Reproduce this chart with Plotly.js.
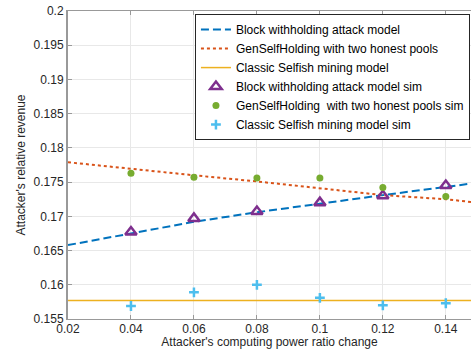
<!DOCTYPE html>
<html><head><meta charset="utf-8">
<script src="https://cdn.plot.ly/plotly-3.0.1.min.js"></script>
<style>html,body{margin:0;padding:0;background:#fff}</style>
</head><body><div id="chart" style="width:471px;height:349px"></div>
<script>
const lineX = [0.02, 0.04, 0.06, 0.08, 0.10, 0.12, 0.14, 0.15];
const blockModel = [0.1658, 0.1675, 0.1692, 0.1706, 0.1719, 0.1731, 0.1743, 0.1749];
const genModel = [0.1779, 0.1769, 0.1760, 0.1751, 0.1741, 0.1731, 0.1725, 0.1720];
const classicModel = [0.1577, 0.1577, 0.1577, 0.1577, 0.1577, 0.1577, 0.1577, 0.1577];
const simX = [0.04, 0.06, 0.08, 0.10, 0.12, 0.14];
const blockSim = [0.1677, 0.1697, 0.1707, 0.1720, 0.1730, 0.1745];
const genSim = [0.1763, 0.1757, 0.1756, 0.1756, 0.1742, 0.1729];
const classicSim = [0.1569, 0.1589, 0.1600, 0.1581, 0.1570, 0.1573];
const xTicks = [0.02, 0.04, 0.06, 0.08, 0.10, 0.12, 0.14];
const xTickText = ['0.02', '0.04', '0.06', '0.08', '0.1', '0.12', '0.14'];
const yTicks = [0.155, 0.16, 0.165, 0.17, 0.175, 0.18, 0.185, 0.19, 0.195, 0.2];
const yTickText = ['0.155', '0.16', '0.165', '0.17', '0.175', '0.18', '0.185', '0.19', '0.195', '0.2'];
const names = ['Block withholding attack model', 'GenSelfHolding with two honest pools', 'Classic Selfish mining model',
  'Block withholding attack model sim', 'GenSelfHolding  with two honest pools sim', 'Classic Selfish mining model sim'];

const traces = [
  {x: lineX, y: blockModel, mode: 'lines', name: names[0], line: {color: '#0072BD', width: 2, dash: '8px,4px'}},
  {x: lineX, y: genModel, mode: 'lines', name: names[1], line: {color: '#D95319', width: 2, dash: 'dot'}},
  {x: lineX, y: classicModel, mode: 'lines', name: names[2], line: {color: '#EDB120', width: 1.5}},
  {x: simX, y: blockSim, mode: 'markers', name: names[3], marker: {symbol: 'triangle-up-open', size: 10, color: '#7E2F8E', line: {width: 2.5, color: '#7E2F8E'}}},
  {x: simX, y: genSim, mode: 'markers', name: names[4], marker: {symbol: 'circle', size: 7, color: '#77AC30'}},
  {x: simX, y: classicSim, mode: 'markers', name: names[5], marker: {symbol: 'cross-thin-open', size: 7, color: '#4DBEEE', line: {width: 2.5, color: '#4DBEEE'}}}
];
const fam = 'Liberation Sans, Arial, Helvetica, sans-serif';
const layout = {
  width: 471, height: 349,
  margin: {l: 68, r: 0, t: 11, b: 30},
  paper_bgcolor: '#fff', plot_bgcolor: '#fff',
  font: {family: fam, size: 12, color: '#262626'},
  showlegend: true,
  legend: {x: 0.315, y: 0.99, xanchor: 'left', yanchor: 'top', bgcolor: '#fff', bordercolor: '#262626', borderwidth: 1,
    font: {family: fam, size: 12, color: '#000'}, tracegroupgap: 0},
  xaxis: {range: [0.02, 0.148], tickvals: xTicks, ticktext: xTickText, showgrid: true, gridcolor: '#e8e8e8', zeroline: false,
    showline: true, linecolor: '#999', linewidth: 1, mirror: 'ticks', ticks: 'inside', ticklen: 4, tickcolor: '#999',
    tickfont: {size: 12, color: '#262626'}, ticklabelstandoff: -1,
    title: {text: "Attacker's computing power ratio change", font: {size: 12, color: '#262626'}, standoff: 9}, automargin: false},
  yaxis: {range: [0.155, 0.2], tickvals: yTicks, ticktext: yTickText, showgrid: true, gridcolor: '#e8e8e8', zeroline: false,
    showline: true, linecolor: '#999', linewidth: 2, ticks: 'inside', ticklen: 4, tickcolor: '#999',
    tickfont: {size: 12, color: '#262626'},
    title: {text: "Attacker's relative revenue", font: {size: 12, color: '#262626'}, standoff: 5}, automargin: false}
};
Plotly.newPlot('chart', traces, layout, {displayModeBar: false, staticPlot: true});
</script></body></html>
